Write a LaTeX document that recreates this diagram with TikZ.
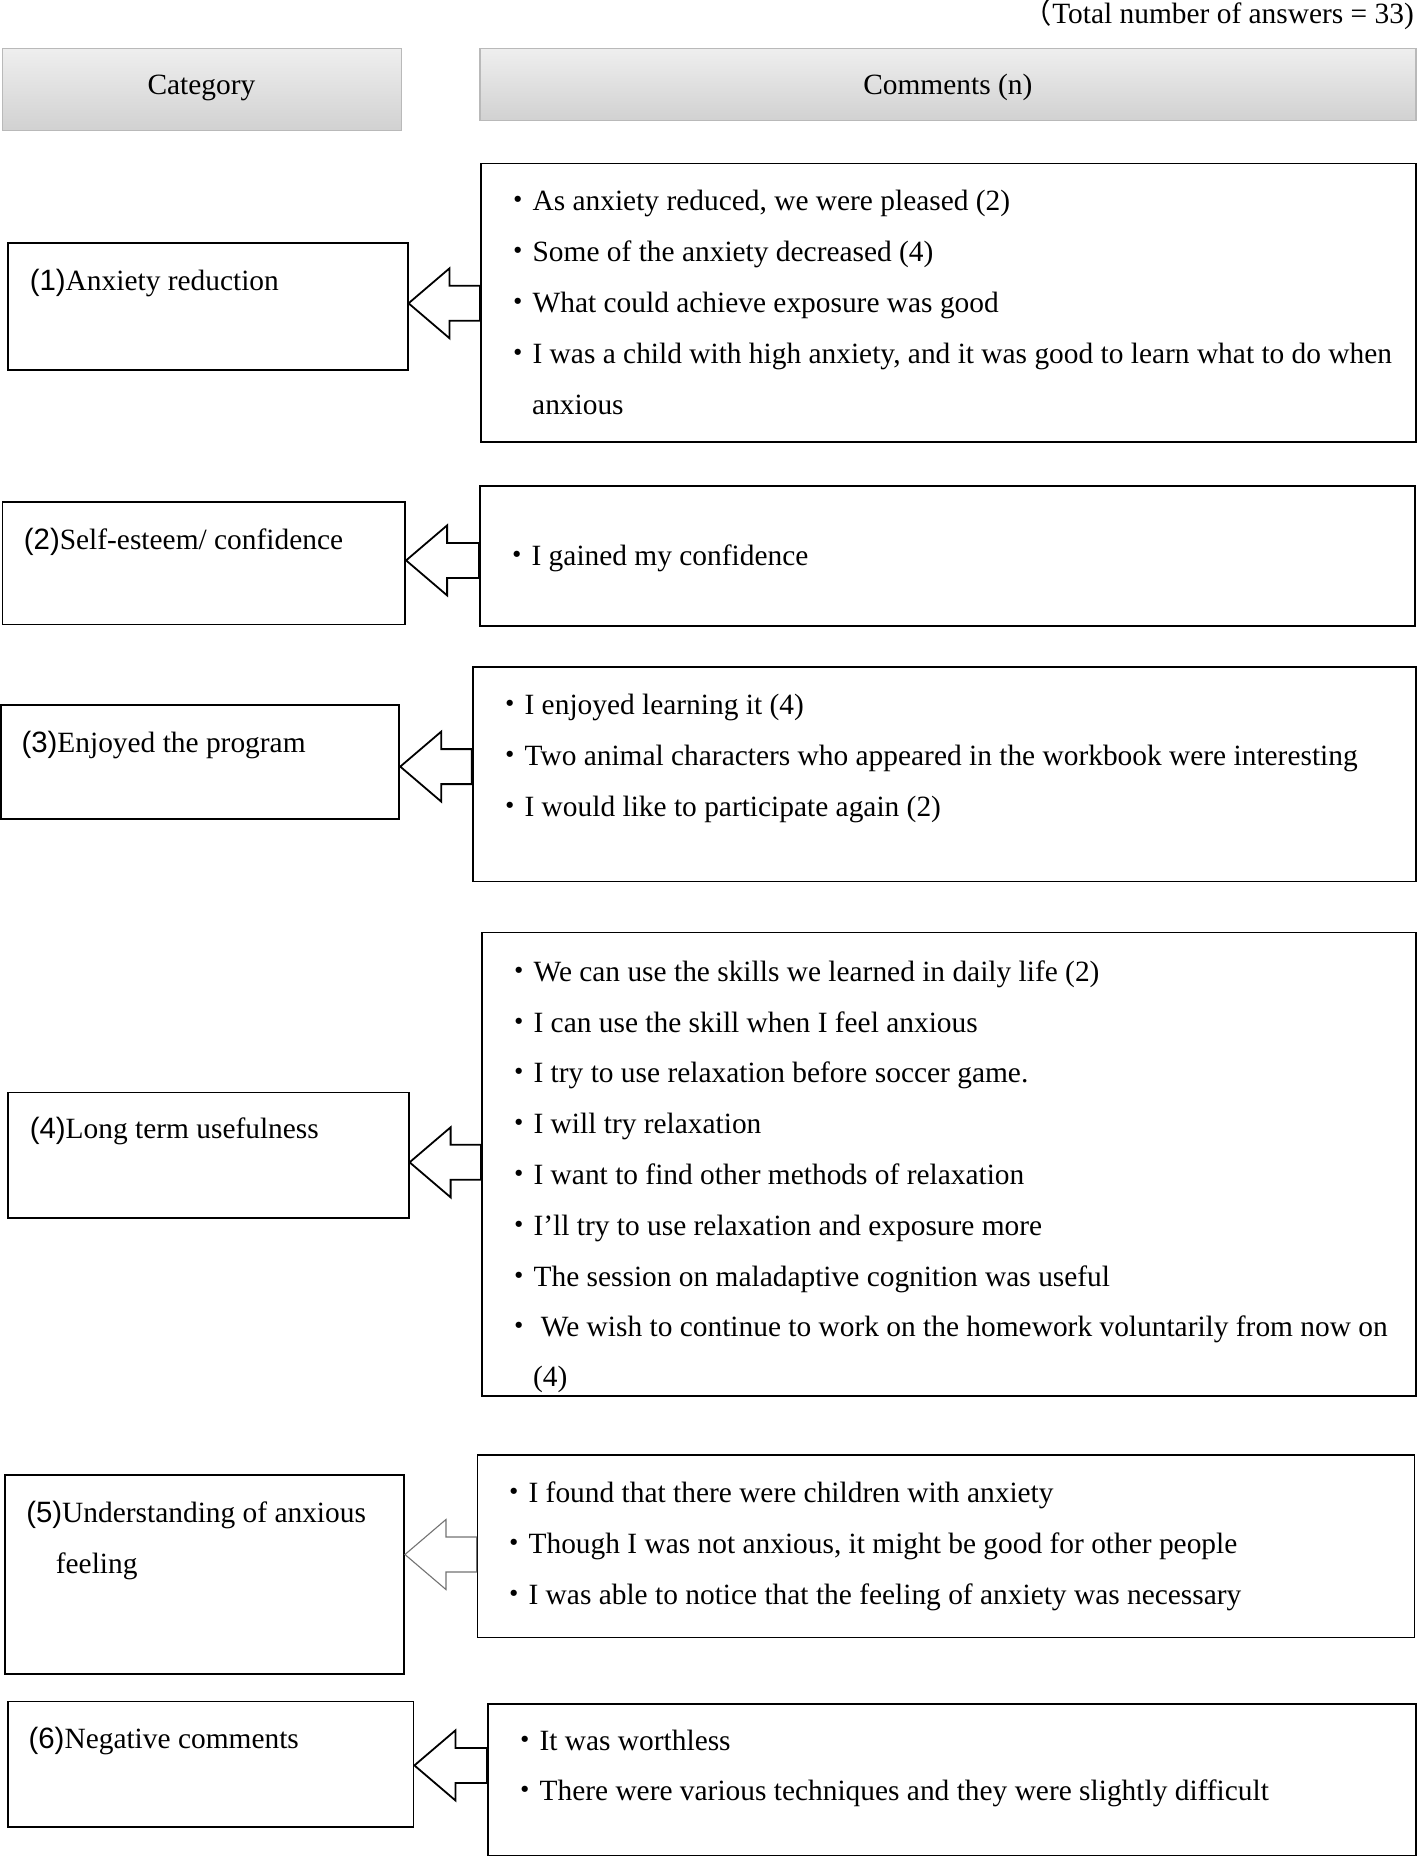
\documentclass[tikz,border=0pt]{standalone}
\usepackage{fontspec}
\setmainfont{Liberation Serif}
\newfontfamily\numfont{Liberation Sans}
\newfontfamily\cjkfont{Noto Sans CJK JP}
\usetikzlibrary{calc}
\newcommand\bul{{\cjkfont ・}}
\newcommand\num[1]{{\numfont(#1)}}
\newcommand\blockarrow[4][black]{%
  \draw[arrowline, draw=#1] (#2.east |- #4) -- ++(41,-35) -- ++(0,17.5)
    -- ($(#3.west |- #4)+(0,-17.5)$) -- ($(#3.west |- #4)+(0,17.5)$)
    -- ($(#2.east |- #4)+(41,17.5)$) -- ++(0,17.5) -- cycle;}
\begin{document}
\begin{tikzpicture}[x=1pt,y=-1pt,
  catbox/.style={draw=black, line width=1.8pt, inner sep=0pt},
  headbox/.style={draw=gray!55, line width=1.6pt, top color=gray!13, bottom color=gray!36, inner sep=0pt},
  txt/.style={anchor=west, inner sep=0pt, font=\fontsize{29.4}{34}\selectfont, text height=22pt, text depth=3pt},
  ctxt/.style={txt, anchor=center},
  arrowline/.style={line width=1.8pt, fill=white, line join=miter}]
\useasboundingbox (0,0) rectangle (1417,1857);

% title
\node[txt, anchor=east] (total) at (1414,14) {{\cjkfont （}Total number of answers = 33)};

% headers
\node[headbox, minimum width=399pt, minimum height=82pt] (h1) at (202,89.5) {};
\node[headbox, minimum width=936pt, minimum height=72pt] (h2) at (948,84.7) {};
\node[ctxt] (h1t) at (201.4,85.3) {Category};
\node[ctxt] (h2t) at (947.8,85.3) {Comments (n)};

% category boxes
\node[catbox, minimum width=399.3pt, minimum height=126.7pt] (L1) at (208,306.4) {};
\node[catbox, minimum width=402.8pt, minimum height=122.1pt] (L2) at (203.8,563.4) {};
\node[catbox, minimum width=398.1pt, minimum height=113.7pt] (L3) at (200.3,761.9) {};
\node[catbox, minimum width=400.4pt, minimum height=125.6pt] (L4) at (208.5,1155.2) {};
\node[catbox, minimum width=399.3pt, minimum height=199pt] (L5) at (204.4,1574.5) {};
\node[catbox, minimum width=405.2pt, minimum height=125.6pt] (L6) at (210.9,1764.2) {};

% comment boxes
\node[catbox, minimum width=935pt, minimum height=278.5pt] (R1) at (948.5,302.8) {};
\node[catbox, minimum width=934.6pt, minimum height=139.8pt] (R2) at (947.3,555.7) {};
\node[catbox, minimum width=943.3pt, minimum height=214.5pt] (R3) at (944.4,774.3) {};
\node[catbox, minimum width=934pt, minimum height=463.3pt] (R4) at (949,1164.1) {};
\node[catbox, minimum width=937.1pt, minimum height=182.4pt] (R5) at (946,1546.2) {};
\node[catbox, minimum width=928pt, minimum height=151.7pt] (R6) at (952,1779.6) {};

% category labels
\node[txt] (l1) at (29.6,280.8) {\num{1}Anxiety reduction};
\node[txt] (l2) at (23.7,540.3) {\num{2}Self-esteem/ confidence};
\node[txt] (l3) at (21.3,742.9) {\num{3}Enjoyed the program};
\node[txt] (l4) at (29.6,1129.1) {\num{4}Long term usefulness};
\node[txt] (l5) at (26.1,1513) {\num{5}Understanding of anxious};
\node[txt] (l5b) at (55.7,1564) {feeling};
\node[txt] (l6) at (28.4,1739.3) {\num{6}Negative comments};

% comments box 1
\node[txt] (c11) at (503,201.4) {\bul As anxiety reduced, we were pleased (2)};
\node[txt] (c12) at (503,252.4) {\bul Some of the anxiety decreased (4)};
\node[txt] (c13) at (503,303.3) {\bul What could achieve exposure was good};
\node[txt] (c14) at (503,354.3) {\bul I was a child with high anxiety, and it was good to learn what to do when};
\node[txt] (c15) at (532,405.2) {anxious};
% box 2
\node[txt] (c21) at (502,555.7) {\bul I gained my confidence};
% box 3
\node[txt] (c31) at (495,705) {\bul I enjoyed learning it (4)};
\node[txt] (c32) at (495,755.9) {\bul Two animal characters who appeared in the workbook were interesting};
\node[txt] (c33) at (495,806.8) {\bul I would like to participate again (2)};
% box 4
\node[txt] (c41) at (504,971.5) {\bul We can use the skills we learned in daily life (2)};
\node[txt] (c42) at (504,1022.5) {\bul I can use the skill when I feel anxious};
\node[txt] (c43) at (504,1073.4) {\bul I try to use relaxation before soccer game.};
\node[txt] (c44) at (504,1124.4) {\bul I will try relaxation};
\node[txt] (c45) at (504,1175.3) {\bul I want to find other methods of relaxation};
\node[txt] (c46) at (504,1226.3) {\bul I’ll try to use relaxation and exposure more};
\node[txt] (c47) at (504,1277.2) {\bul The session on maladaptive cognition was useful};
\node[txt] (c48) at (504,1327) {\bul\ We wish to continue to work on the homework voluntarily from now on};
\node[txt] (c49) at (533,1376.7) {(4)};
% box 5
\node[txt] (c51) at (499,1492.8) {\bul I found that there were children with anxiety};
\node[txt] (c52) at (499,1543.8) {\bul Though I was not anxious, it might be good for other people};
\node[txt] (c53) at (499,1594.7) {\bul I was able to notice that the feeling of anxiety was necessary};
% box 6
\node[txt] (c61) at (510,1740.5) {\bul It was worthless};
\node[txt] (c62) at (510,1791.4) {\bul There were various techniques and they were slightly difficult};

% arrows
\coordinate (a1) at (0,303.3);
\coordinate (a2) at (0,560.4);
\coordinate (a3) at (0,766.6);
\coordinate (a4) at (0,1162.3);
\coordinate (a5) at (0,1554.5);
\coordinate (a6) at (0,1765.4);
\blockarrow{L1}{R1}{a1}
\blockarrow{L2}{R2}{a2}
\blockarrow{L3}{R3}{a3}
\blockarrow{L4}{R4}{a4}
\begin{scope}[arrowline/.append style={line width=1.1pt}]
\blockarrow[black!55]{L5}{R5}{a5}
\end{scope}
\blockarrow{L6}{R6}{a6}
\end{tikzpicture}
\end{document}
